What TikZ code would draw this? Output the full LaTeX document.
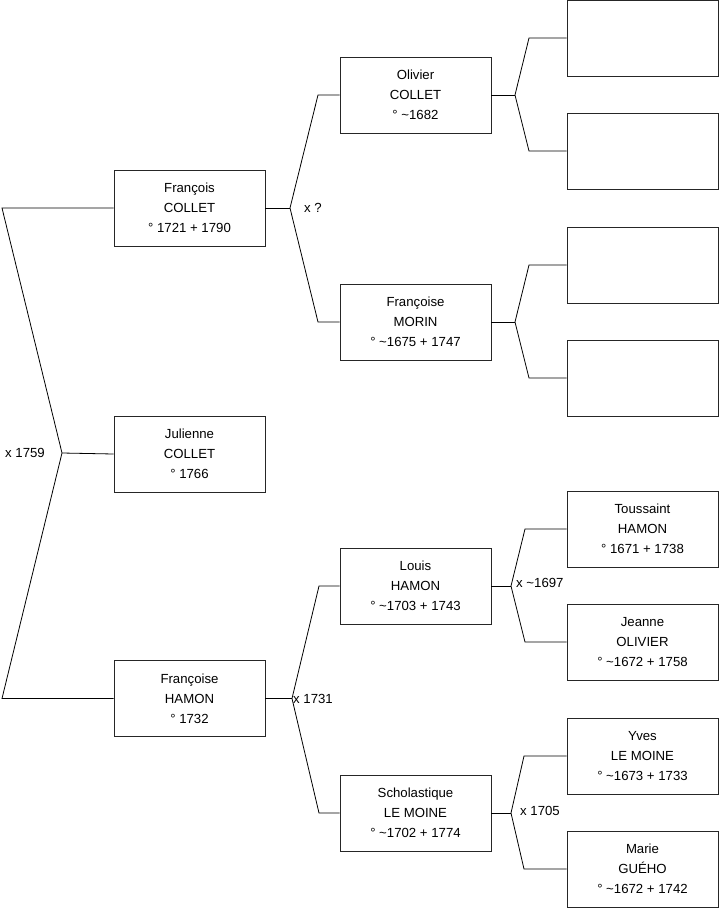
\documentclass[tikz,border=0pt]{standalone}
\usepackage{fontspec}
\setmainfont{Liberation Sans}
\begin{document}
\begin{tikzpicture}[x=1pt,y=-1pt,
  person/.style={draw=black!85, line width=0.9pt, minimum width=151pt, minimum height=76pt,
    align=center, inner sep=0pt, font=\fontsize{13.2}{20}\selectfont},
  link/.style={draw=black, line width=0.8pt},
  marr/.style={font=\fontsize{13.2}{15}\selectfont, inner sep=0pt, anchor=west}]
\useasboundingbox (0,0) rectangle (719,908);
% generation 1
\node[person] (fc) at (189.5,208) {François\\COLLET\\° 1721 + 1790};
\node[person] (jc) at (189.5,454) {Julienne\\COLLET\\° 1766};
\node[person] (fh) at (189.5,698.5) {Françoise\\HAMON\\° 1732};
% generation 2
\node[person] (oc) at (415.5,95) {Olivier\\COLLET\\° \textasciitilde1682};
\node[person] (fm) at (415.5,322) {Françoise\\MORIN\\° \textasciitilde1675 + 1747};
\node[person] (lh) at (415.5,586) {Louis\\HAMON\\° \textasciitilde1703 + 1743};
\node[person] (sl) at (415.5,813) {Scholastique\\LE MOINE\\° \textasciitilde1702 + 1774};
% generation 3
\node[person] (e1) at (642.5,38) {};
\node[person] (e2) at (642.5,151) {};
\node[person] (e3) at (642.5,265) {};
\node[person] (e4) at (642.5,378) {};
\node[person] (th) at (642.5,529) {Toussaint\\HAMON\\° 1671 + 1738};
\node[person] (jo) at (642.5,642) {Jeanne\\OLIVIER\\° \textasciitilde1672 + 1758};
\node[person] (yl) at (642.5,756) {Yves\\LE MOINE\\° \textasciitilde1673 + 1733};
\node[person] (mg) at (642.5,869) {Marie\\GUÉHO\\° \textasciitilde1672 + 1742};
% fork: Julienne
\coordinate (v0) at (62,453);
\coordinate (a0) at (2,208);
\coordinate (b0) at (2,698.5);
\draw[link] (fc.west) -- (a0) -- (v0) -- (b0) -- (fh.west);
\draw[link] (v0) -- (jc.west);
\node[marr, anchor=east] (m0) at (45,453) {x 1759};
% fork: François COLLET
\coordinate (v1) at (290,208);
\coordinate (a1) at (318,95);
\coordinate (b1) at (318,322);
\draw[link] (oc.west) -- (a1) -- (v1) -- (b1) -- (fm.west);
\draw[link] (v1) -- (fc.east);
\node[marr] (m1) at (304,208) {x ?};
% fork: Françoise HAMON
\coordinate (v2) at (292,698.5);
\coordinate (a2) at (319,586);
\coordinate (b2) at (319,813);
\draw[link] (lh.west) -- (a2) -- (v2) -- (b2) -- (sl.west);
\draw[link] (v2) -- (fh.east);
\node[marr] (m2) at (293,698.5) {x 1731};
% fork: Olivier
\coordinate (v3) at (515,95);
\coordinate (a3) at (529,38);
\coordinate (b3) at (529,151);
\draw[link] (e1.west) -- (a3) -- (v3) -- (b3) -- (e2.west);
\draw[link] (v3) -- (oc.east);
% fork: Françoise MORIN
\coordinate (v4) at (515,322);
\coordinate (a4) at (529,265);
\coordinate (b4) at (529,378);
\draw[link] (e3.west) -- (a4) -- (v4) -- (b4) -- (e4.west);
\draw[link] (v4) -- (fm.east);
% fork: Louis
\coordinate (v5) at (511,586);
\coordinate (a5) at (525,529);
\coordinate (b5) at (525,642);
\draw[link] (th.west) -- (a5) -- (v5) -- (b5) -- (jo.west);
\draw[link] (v5) -- (lh.east);
\node[marr] (m5) at (516,583) {x \textasciitilde1697};
% fork: Scholastique
\coordinate (v6) at (511,813);
\coordinate (a6) at (524,756);
\coordinate (b6) at (524,869);
\draw[link] (yl.west) -- (a6) -- (v6) -- (b6) -- (mg.west);
\draw[link] (v6) -- (sl.east);
\node[marr] (m6) at (520,811) {x 1705};
\end{tikzpicture}
\end{document}
